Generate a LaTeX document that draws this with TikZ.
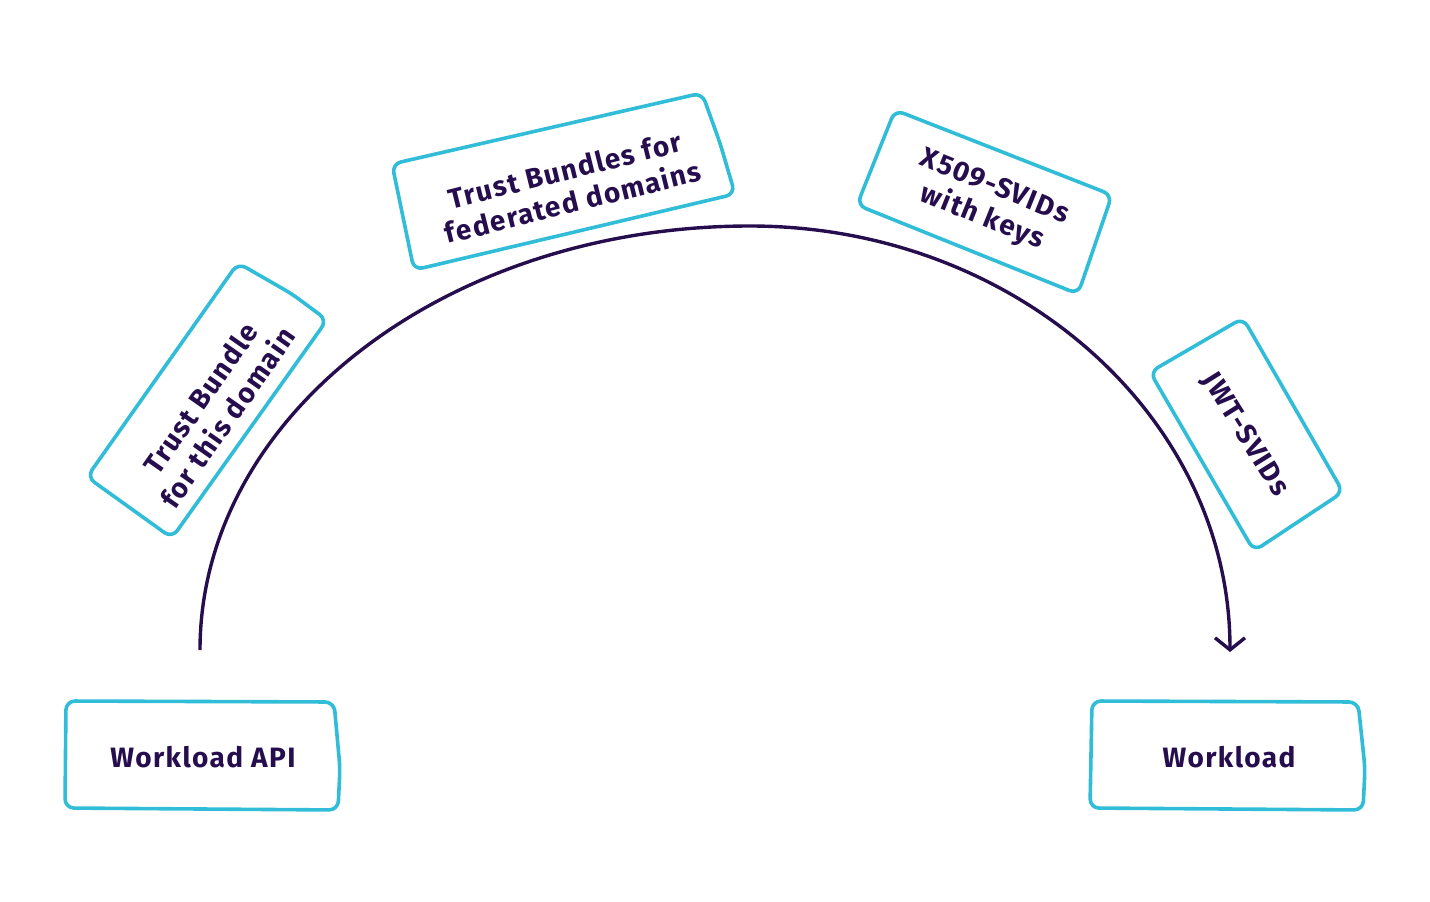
\documentclass[tikz,border=0pt]{standalone}
\usepackage{fontspec}
\setmainfont[LetterSpace=5]{Fira Sans}
\usetikzlibrary{arrows.meta}
\definecolor{ink}{HTML}{260E4E}
\definecolor{cyanbox}{HTML}{31BDD8}
\begin{document}
\begin{tikzpicture}[x=1pt,y=-1pt,
  lbl/.style={font=\bfseries\fontsize{28}{33}\selectfont, text=ink, align=center, inner sep=0pt},
  hand/.style={draw=cyanbox, line width=3.6pt, rounded corners=9pt, line join=round},
  arcline/.style={draw=ink, line width=3.4pt, -{Straight Barb[length=12pt,width=30pt,line width=3.4pt]}}]
\useasboundingbox (0,0) rectangle (1430,902);

% label nodes
\node[lbl] (api) at (203,757) {Workload API};
\node[lbl] (wl) at (1229,757) {Workload};
\node[lbl, rotate=55] (dom) at (214,408) {Trust Bundle\\for this domain};
\node[lbl, rotate=14] (fed) at (569,186) {Trust Bundles for\\federated domains};
\node[lbl, rotate=-22] (x509) at (988,203) {X509-SVIDs\\with keys};
\node[lbl, rotate=-58] (jwt) at (1245,435) {JWT-SVIDs};

% hand-drawn boxes
\draw[hand] (66,701) -- (334,702) -- (340,768) -- (338,810) -- (65,808) -- cycle;
\draw[hand] (1092,701) -- (1358,702) -- (1365,768) -- (1363,810) -- (1090,808) -- cycle;
\draw[hand] (392,164) -- (702,93) -- (720,143) -- (735,194) -- (414,270) -- cycle;
\draw[hand] (238,263) -- (292,294) -- (327,320) -- (172,538) -- (87,477) -- cycle;
\draw[hand] (895,110) -- (1112,195) -- (1078,294) -- (857,205) -- cycle;
\draw[hand] (1243,318) -- (1343,492) -- (1254,551) -- (1150,372) -- cycle;

% connector arc
\coordinate (s) at (200,650);
\coordinate (e) at (1230,652);
\draw[arcline] (s) arc[start angle=180, end angle=270, x radius=550, y radius=424]
  arc[start angle=270, end angle=360, x radius=480, y radius=426];
\end{tikzpicture}
\end{document}
